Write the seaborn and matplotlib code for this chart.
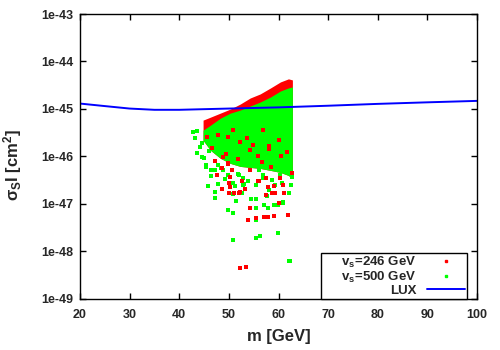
import numpy as np
import pandas as pd
import seaborn as sns
import matplotlib
import matplotlib.pyplot as plt
from matplotlib.lines import Line2D

matplotlib.use('Agg')

# LUX exclusion limit (mass in GeV, cross section in cm^2)
lux_m = [20, 25, 30, 35, 40, 45, 50, 55, 60, 70, 80, 90, 100]
lux_sigma = [1.30e-45, 1.15e-45, 1.02e-45, 9.6e-46, 9.6e-46, 9.9e-46, 1.02e-45,
             1.05e-45, 1.08e-45, 1.17e-45, 1.28e-45, 1.38e-45, 1.48e-45]

# dense part of the scan, log10(sigma) envelopes
band_m = [44.8, 46.3, 48.3, 50.3, 52.3, 54.3, 56.3, 58.4, 60.4, 62.0, 62.8]
red_top = [-45.235, -45.172, -45.087, -45.002, -44.896, -44.769, -44.684, -44.557, -44.430, -44.366, -44.388]
green_top = [-45.447, -45.341, -45.193, -45.087, -45.023, -44.939, -44.854, -44.748, -44.621, -44.557, -44.536]
green_bottom = [-45.659, -45.871, -46.040, -46.146, -46.210, -46.231, -46.252, -46.294, -46.337, -46.400, -46.464]

# scattered points around the dense part, log10(sigma)
red_m = [48.9, 47.7, 48.7, 50.1, 50.1, 50.3, 52.1, 54.3, 55.4, 57.0, 57.8, 59.0, 57.8, 59.0,
         61.2, 62.0, 52.3, 53.5, 53.9, 51.0, 52.3, 53.3, 55.8, 57.4, 58.6, 59.2, 61.0, 60.2,
         50.7, 49.9, 45.6, 46.6, 47.3, 49.5, 51.9, 54.9, 56.6, 60.6, 47.9, 53.7, 58.0,
         48.7, 49.9, 50.3, 52.7, 54.3, 56.0, 57.4, 58.4, 60.4, 62.8,
         50.9, 52.3, 60.0, 58.0, 54.3, 49.9, 55.8, 61.8, 56.8]
red_log = [-46.02, -46.40, -46.68, -46.55, -46.78, -46.65, -46.78, -47.08, -47.29, -47.27, -47.27,
           -47.25, -46.65, -46.63, -46.78, -47.23, -48.35, -48.33, -47.33, -46.76, -46.74, -46.68,
           -46.51, -46.82, -46.78, -46.76, -46.61, -46.99, -46.29, -46.14, -45.60, -45.82, -46.10,
           -45.95, -46.05, -45.75, -46.12, -46.00, -45.55, -45.62, -45.85,
           -46.25, -46.15, -46.44, -46.51, -46.29, -46.51, -46.46, -46.23, -46.46, -46.34,
           -45.45, -45.70, -45.66, -45.77, -45.87, -45.60, -45.98, -45.91, -45.45]
green_m = [42.8, 43.6, 43.2, 44.6, 44.2, 43.6, 44.9, 45.9, 46.6, 45.3, 44.6, 45.3, 46.3, 46.3,
           47.7, 45.7, 47.3, 47.3, 50.7, 50.9, 50.9, 51.5, 55.4, 55.4, 55.4, 56.2, 57.6, 59.0,
           59.8, 61.0, 62.4, 62.2, 52.7, 54.5, 57.0, 57.8, 61.0, 55.4, 53.1, 59.2, 62.8, 50.9,
           55.4, 59.8, 62.2, 49.9, 48.5, 49.3, 52.0, 53.9, 56.8, 58.6, 60.8, 62.5, 51.3, 58.0,
           47.3, 47.9, 48.9, 49.9, 50.9, 52.9, 47.9, 50.3,
           51.9, 56.0, 58.0, 60.4, 62.4, 52.9, 56.8]
green_log = [-45.49, -45.47, -45.62, -45.72, -45.80, -45.93, -46.04, -45.89, -45.76, -46.19,
             -46.02, -46.23, -46.29, -46.42, -46.40, -46.63, -46.74, -46.87, -46.55, -46.80,
             -47.20, -46.93, -46.89, -47.08, -47.33, -47.67, -46.84, -47.02, -47.02, -46.97,
             -48.20, -46.78, -46.78, -46.89, -47.03, -47.08, -46.95, -46.61, -46.57, -46.61,
             -46.44, -47.76, -47.71, -47.61, -48.20, -47.12, -46.25, -46.48, -46.40, -46.52,
             -46.45, -46.50, -46.55, -46.60, -46.62, -46.70,
             -46.29, -46.19, -46.29, -46.40, -46.55, -46.61, -46.57, -46.65,
             -46.36, -46.29, -46.23, -46.40, -46.29, -46.46, -46.40]

sns.set_style('ticks')
plt.rcParams['font.family'] = ['Liberation Sans', 'DejaVu Sans']
plt.rcParams['font.weight'] = 'bold'
plt.rcParams['mathtext.fontset'] = 'custom'
plt.rcParams['mathtext.rm'] = 'Liberation Sans:bold'
plt.rcParams['mathtext.it'] = 'Liberation Sans:bold'
plt.rcParams['mathtext.bf'] = 'Liberation Sans:bold'

RED = '#ff0000'
GREEN = '#00ff00'
BLUE = '#0000ff'

fig, ax = plt.subplots(figsize=(5, 3.5), dpi=100)
fig.subplots_adjust(left=0.16, right=0.954, top=0.96, bottom=0.146)

bm = np.array(band_m)
ax.fill_between(bm, 10 ** np.array(green_bottom), 10 ** np.array(red_top), color=RED, lw=0)
ax.fill_between(bm, 10 ** np.array(green_bottom), 10 ** np.array(green_top), color=GREEN, lw=0)

red_df = pd.DataFrame({'m': red_m, 'sigma': 10 ** np.array(red_log)})
green_df = pd.DataFrame({'m': green_m, 'sigma': 10 ** np.array(green_log)})
sns.scatterplot(data=green_df, x='m', y='sigma', ax=ax, color=GREEN, marker='s', s=7,
                linewidth=0, legend=False)
sns.scatterplot(data=red_df, x='m', y='sigma', ax=ax, color=RED, marker='s', s=6,
                linewidth=0, legend=False)

lux_df = pd.DataFrame({'m': lux_m, 'sigma': lux_sigma})
sns.lineplot(data=lux_df, x='m', y='sigma', ax=ax, color=BLUE, lw=1.4, legend=False)

ax.set_yscale('log')
ax.set_xlim(20, 100)
ax.set_ylim(1e-49, 1e-43)
ax.set_xticks(range(20, 101, 10))
ax.set_yticks([1e-49, 1e-48, 1e-47, 1e-46, 1e-45, 1e-44, 1e-43])
ax.set_yticklabels(['1e-49', '1e-48', '1e-47', '1e-46', '1e-45', '1e-44', '1e-43'])
ax.minorticks_off()
ax.tick_params(direction='in', top=True, right=True, length=4, width=1,
               labelsize=9, pad=5, color='black')
ax.tick_params(axis='x', pad=7)
for side in ax.spines.values():
    side.set_linewidth(1)
    side.set_color('black')

ax.set_xlabel('m [GeV]', fontsize=12, fontweight='bold', labelpad=6)
ax.set_ylabel(r'$\sigma_S$I [cm$^2$]', fontsize=12, fontweight='bold')
ax.yaxis.set_label_coords(-0.14, 0.47)

handles = [
    Line2D([], [], color=RED, marker='s', markersize=2, linestyle='none'),
    Line2D([], [], color=GREEN, marker='s', markersize=2, linestyle='none'),
    Line2D([], [], color=BLUE, lw=1.4),
]
labels = [r'     v$_s$=246 GeV', r'     v$_s$=500 GeV', 'LUX']
leg = ax.legend(handles, labels, loc='lower right', bbox_to_anchor=(0.975, 0.0),
                markerfirst=False, fontsize=9.5, frameon=True, fancybox=False,
                edgecolor='black', framealpha=1, handlelength=2.9, handletextpad=0.8,
                labelspacing=0.0, borderpad=0.15, borderaxespad=0.0)
leg.get_frame().set_linewidth(1)

plt.savefig('out.png', dpi=100)
plt.close()
